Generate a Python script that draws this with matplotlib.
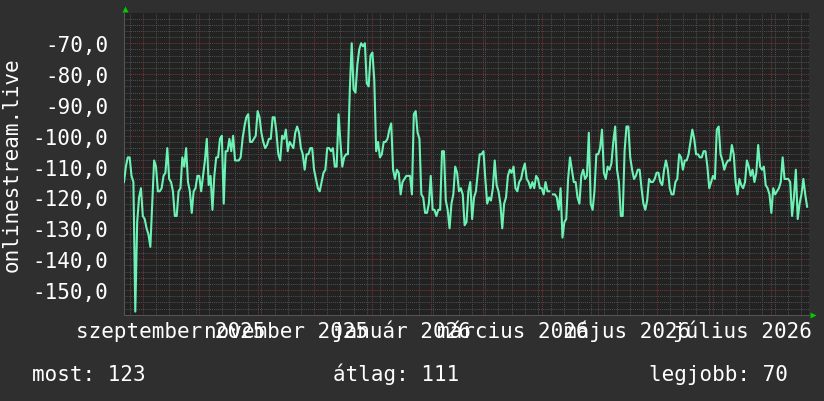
import numpy as np
import pandas as pd
import matplotlib
matplotlib.use('Agg')
import matplotlib.pyplot as plt
import matplotlib.dates as mdates
import matplotlib.transforms as mtransforms
from matplotlib.ticker import MultipleLocator, FuncFormatter, NullFormatter

# daily values, first day 2025-08-22
start = '2025-08-22'
end = '2026-08-21'

rank_2025 = [
    -115, -110, -107, -107, -113, -115, -157, -128, -120, -117,
    -126, -127, -130, -132, -136, -122, -108, -110, -118, -118,
    -117, -113, -112, -104, -114, -115, -118, -126, -126, -118,
    -117, -107, -110, -104, -115, -118, -125, -118, -117, -113,
    -113, -118, -113, -108, -101, -116, -113, -124, -113, -107,
    -107, -101, -100, -122, -105, -105, -101, -105, -100, -108,
    -108, -108, -107, -101, -97, -94, -93, -102, -102, -101,
    -100, -92, -94, -99, -102, -104, -103, -101, -101, -94,
    -94, -99, -106, -108, -100, -101, -98, -105, -102, -103,
    -104, -99, -97, -99, -104, -106, -111, -106, -106, -104,
    -104, -111, -114, -117, -118, -115, -112, -111, -104, -104,
    -105, -104, -110, -110, -93, -102, -110, -107, -106, -106,
    -85, -70, -85, -86, -77, -72, -70, -71, -70, -83,
    -84, -74,
]
rank_2026 = [
    -73, -82, -105, -102, -107, -106, -102, -102, -101, -98,
    -96, -111, -114, -111, -112, -119, -115, -114, -113, -113,
    -113, -119, -93, -92, -99, -101, -119, -120, -125, -125,
    -122, -113, -124, -124, -126, -124, -124, -105, -105, -121,
    -124, -130, -122, -119, -110, -112, -118, -117, -119, -129,
    -128, -118, -115, -127, -120, -118, -112, -106, -106, -105,
    -114, -122, -120, -121, -117, -108, -116, -118, -122, -130,
    -122, -120, -113, -111, -112, -110, -117, -118, -115, -114,
    -111, -109, -114, -115, -117, -115, -117, -113, -114, -117,
    -117, -119, -115, -118, -118, np.nan, -119, -119, -120, -124,
    -117, -133, -128, -127, -114, -107, -111, -115, -115, -120,
    -122, -113, -111, -114, -113, -99, -122, -124, -118, -106,
    -106, -104, -98, -112, -114, -110, -111, -109, -102, -97,
    -111, -115, -126, -126, -105, -97, -97, -107, -111, -114,
    -113, -111, -111, -117, -122, -124, -121, -114, -115, -115,
    -114, -112, -112, -115, -116, -111, -108, -111, -117, -119,
    -119, -115, -114, -106, -107, -111, -108, -108, -106, -102,
    -98, -101, -106, -106, -107, -107, -105, -105, -110, -117,
    -115, -113, -114, -98, -97, -106, -108, -111, -109, -108,
    -108, -103, -106, -115, -119, -114, -116, -117, -115, -108,
    -110, -113, -111, -115, -112, -103, -110, -111, -110, -116,
    -117, -119, -125, -117, -119, -118, -117, -115, -107, -114,
    -114, -114, -115, -126, -120, -111, -127, -122, -119, -114,
    -119, -123,
]

label_months = ['2025-09', '2025-11', '2026-01', '2026-03', '2026-05', '2026-07']
label_names = ['szeptember 2025', 'november 2025', 'január 2026',
               'március 2026', 'május 2026', 'július 2026']
ylabel = 'onlinestream.live'
summary = ['most: 123', 'átlag: 111', 'legjobb: 70']

BG = '#2f2f2f'
PLOT_BG = '#222222'
LINE = '#6cf2b4'
FONT = 'DejaVu Sans Mono'

values = np.array(rank_2025 + rank_2026, dtype=float)
days = pd.date_range(start, periods=len(values), freq='D')

W, H = 824, 402
fig = plt.figure(figsize=(W / 100, H / 100), dpi=100, facecolor=BG)
ax = fig.add_axes([124 / W, 86 / H, 685 / W, 302 / H])
ax.set_facecolor(PLOT_BG)

ax.plot(days, values, color=LINE, lw=1.5, zorder=3)

ax.set_xlim(pd.Timestamp(start), pd.Timestamp(end))
ax.set_ylim(-158.1, -60.2)

# y axis: labelled every 10, dotted grid every 2
ax.set_yticks(np.arange(-150, -69, 10))
ax.yaxis.set_minor_locator(MultipleLocator(2))
ax.yaxis.set_major_formatter(FuncFormatter(lambda v, p: f'{v:.1f}'.replace('.', ',')))

# x axis: red lines at month start, grey lines every monday
ax.xaxis.set_major_locator(mdates.MonthLocator())
ax.xaxis.set_minor_locator(mdates.WeekdayLocator(byweekday=mdates.MO))
ax.xaxis.set_major_formatter(NullFormatter())

ax.grid(which='minor', color='#4e4e4e', ls=(0, (1, 1)), lw=0.75)
ax.grid(which='major', color='#7a3434', ls=(0, (1, 1)), lw=0.75)
ax.set_axisbelow(True)

ax.tick_params(which='both', length=0)
ax.tick_params(axis='y', labelsize=15, labelcolor='white', pad=11.5)
for t in ax.get_yticklabels():
    t.set_family(FONT)

for s in ['top', 'right']:
    ax.spines[s].set_visible(False)
for s in ['left', 'bottom']:
    ax.spines[s].set_color('#555555')
    ax.spines[s].set_linewidth(0.75)

# month labels centred on the middle of the month
for m, name in zip(label_months, label_names):
    m0 = pd.Timestamp(m + '-01')
    m1 = m0 + pd.offsets.MonthBegin(1)
    mid = m0 + (m1 - m0) / 2
    ax.text(mid, -22 / 302, name, transform=ax.get_xaxis_transform(),
            ha='center', va='baseline', color='white', fontsize=15, family=FONT)

fig.text(12 / W, 1 - 165 / H, ylabel, rotation=90, ha='center', va='center',
         color='white', fontsize=15, family=FONT)

for x, txt in zip([32, 333, 649], summary):
    fig.text(x / W, 1 - 381 / H, txt, ha='left', va='baseline',
             color='white', fontsize=15, family=FONT)

# little green arrows at the axis ends
up = mtransforms.offset_copy(ax.transAxes, fig=fig, x=1, y=4, units='dots')
right = mtransforms.offset_copy(ax.transAxes, fig=fig, x=4, y=0, units='dots')
ax.plot([0], [1], marker='^', ms=5, color='#00cc00', mec='none', transform=up, clip_on=False)
ax.plot([1], [0], marker='>', ms=5, color='#00cc00', mec='none', transform=right, clip_on=False)

fig.savefig('out.png', dpi=100, facecolor=BG)
